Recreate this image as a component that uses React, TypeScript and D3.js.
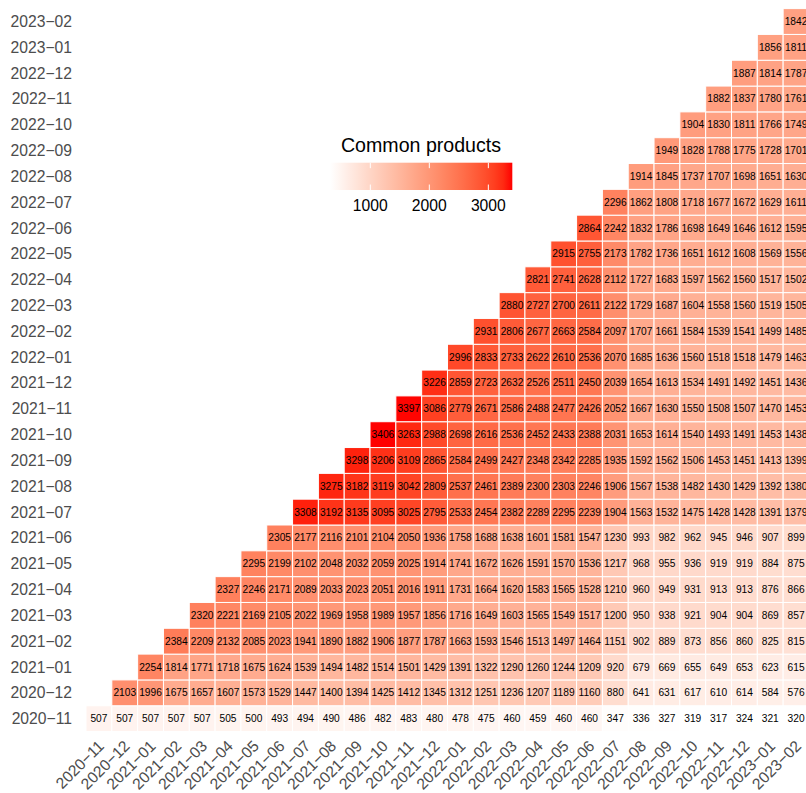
import React from "react";
import * as d3 from "d3";

// Months (x = later month, y = starting month)
const months = [
  "2020-11", "2020-12", "2021-01", "2021-02", "2021-03", "2021-04", "2021-05",
  "2021-06", "2021-07", "2021-08", "2021-09", "2021-10", "2021-11", "2021-12",
  "2022-01", "2022-02", "2022-03", "2022-04", "2022-05", "2022-06", "2022-07",
  "2022-08", "2022-09", "2022-10", "2022-11", "2022-12", "2023-01", "2023-02",
];

// Each row: values for columns starting at the row's own month
const row_2020_11 = [507, 507, 507, 507, 507, 505, 500, 493, 494, 490, 486, 482, 483, 480, 478, 475, 460, 459, 460, 460, 347, 336, 327, 319, 317, 324, 321, 320];
const row_2020_12 = [2103, 1996, 1675, 1657, 1607, 1573, 1529, 1447, 1400, 1394, 1425, 1412, 1345, 1312, 1251, 1236, 1207, 1189, 1160, 880, 641, 631, 617, 610, 614, 584, 576];
const row_2021_01 = [2254, 1814, 1771, 1718, 1675, 1624, 1539, 1494, 1482, 1514, 1501, 1429, 1391, 1322, 1290, 1260, 1244, 1209, 920, 679, 669, 655, 649, 653, 623, 615];
const row_2021_02 = [2384, 2209, 2132, 2085, 2023, 1941, 1890, 1882, 1906, 1877, 1787, 1663, 1593, 1546, 1513, 1497, 1464, 1151, 902, 889, 873, 856, 860, 825, 815];
const row_2021_03 = [2320, 2221, 2169, 2105, 2022, 1969, 1958, 1989, 1957, 1856, 1716, 1649, 1603, 1565, 1549, 1517, 1200, 950, 938, 921, 904, 904, 869, 857];
const row_2021_04 = [2327, 2246, 2171, 2089, 2033, 2023, 2051, 2016, 1911, 1731, 1664, 1620, 1583, 1565, 1528, 1210, 960, 949, 931, 913, 913, 876, 866];
const row_2021_05 = [2295, 2199, 2102, 2048, 2032, 2059, 2025, 1914, 1741, 1672, 1626, 1591, 1570, 1536, 1217, 968, 955, 936, 919, 919, 884, 875];
const row_2021_06 = [2305, 2177, 2116, 2101, 2104, 2050, 1936, 1758, 1688, 1638, 1601, 1581, 1547, 1230, 993, 982, 962, 945, 946, 907, 899];
const row_2021_07 = [3308, 3192, 3135, 3095, 3025, 2795, 2533, 2454, 2382, 2289, 2295, 2239, 1904, 1563, 1532, 1475, 1428, 1428, 1391, 1379];
const row_2021_08 = [3275, 3182, 3119, 3042, 2809, 2537, 2461, 2389, 2300, 2303, 2246, 1906, 1567, 1538, 1482, 1430, 1429, 1392, 1380];
const row_2021_09 = [3298, 3206, 3109, 2865, 2584, 2499, 2427, 2348, 2342, 2285, 1935, 1592, 1562, 1506, 1453, 1451, 1413, 1399];
const row_2021_10 = [3406, 3263, 2988, 2698, 2616, 2536, 2452, 2433, 2388, 2031, 1653, 1614, 1540, 1493, 1491, 1453, 1438];
const row_2021_11 = [3397, 3086, 2779, 2671, 2586, 2488, 2477, 2426, 2052, 1667, 1630, 1550, 1508, 1507, 1470, 1453];
const row_2021_12 = [3226, 2859, 2723, 2632, 2526, 2511, 2450, 2039, 1654, 1613, 1534, 1491, 1492, 1451, 1436];
const row_2022_01 = [2996, 2833, 2733, 2622, 2610, 2536, 2070, 1685, 1636, 1560, 1518, 1518, 1479, 1463];
const row_2022_02 = [2931, 2806, 2677, 2663, 2584, 2097, 1707, 1661, 1584, 1539, 1541, 1499, 1485];
const row_2022_03 = [2880, 2727, 2700, 2611, 2122, 1729, 1687, 1604, 1558, 1560, 1519, 1505];
const row_2022_04 = [2821, 2741, 2628, 2112, 1727, 1683, 1597, 1562, 1560, 1517, 1502];
const row_2022_05 = [2915, 2755, 2173, 1782, 1736, 1651, 1612, 1608, 1569, 1556];
const row_2022_06 = [2864, 2242, 1832, 1786, 1698, 1649, 1646, 1612, 1595];
const row_2022_07 = [2296, 1862, 1808, 1718, 1677, 1672, 1629, 1611];
const row_2022_08 = [1914, 1845, 1737, 1707, 1698, 1651, 1630];
const row_2022_09 = [1949, 1828, 1788, 1775, 1728, 1701];
const row_2022_10 = [1904, 1830, 1811, 1766, 1749];
const row_2022_11 = [1882, 1837, 1780, 1761];
const row_2022_12 = [1887, 1814, 1787];
const row_2023_01 = [1856, 1811];
const row_2023_02 = [1842];

const rows = [
  row_2020_11, row_2020_12, row_2021_01, row_2021_02, row_2021_03, row_2021_04,
  row_2021_05, row_2021_06, row_2021_07, row_2021_08, row_2021_09, row_2021_10,
  row_2021_11, row_2021_12, row_2022_01, row_2022_02, row_2022_03, row_2022_04,
  row_2022_05, row_2022_06, row_2022_07, row_2022_08, row_2022_09, row_2022_10,
  row_2022_11, row_2022_12, row_2023_01, row_2023_02,
];

const legendTicks = [1000, 2000, 3000];
const legendTitle = "Common products";

const W = 806;
const H = 793;
const FONT = "'Liberation Sans', Arial, Helvetica, sans-serif";
const fmt = (m: string) => m.replace("-", "\u2212");

export default function App() {
  const cell = 25.82;
  const x0 = 86;
  const y0 = 8.6;
  const x = d3.scaleBand<string>().domain(months).range([x0, x0 + cell * months.length]).padding(0);
  const y = d3.scaleBand<string>().domain([...months].reverse()).range([y0, y0 + cell * months.length]).padding(0);

  const cells: { xm: string; ym: string; v: number }[] = [];
  rows.forEach((r, i) => {
    r.forEach((v, j) => {
      cells.push({ xm: months[i + j], ym: months[i], v });
    });
  });
  const all = cells.map((c) => c.v);
  const vmin = d3.min(all) as number;
  const vmax = d3.max(all) as number;
  const color = d3
    .scaleLinear<string>()
    .domain([vmin, vmax])
    .range(["white", "red"])
    .interpolate(d3.interpolateLab);

  // legend
  const lx0 = 330, lx1 = 512.3, ly0 = 162.7, lh = 27.3;
  const lscale = d3.scaleLinear().domain([vmin, vmax]).range([lx0, lx1]);
  const stops = d3.range(0, 1.0001, 0.05);

  return (
    <svg width={W} height={H} style={{ position: "absolute", left: 0, top: 0, background: "white" }} fontFamily={FONT}>
      <defs>
        <linearGradient id="lg" x1="0" x2="1" y1="0" y2="0">
          {stops.map((t) => (
            <stop key={t} offset={t} stopColor={color(vmin + t * (vmax - vmin))} />
          ))}
        </linearGradient>
      </defs>
      <rect x={0} y={0} width={W} height={H} fill="white" />
      <g>
        {cells.map((c, k) => (
          <rect
            key={"r" + k}
            x={x(c.xm)}
            y={y(c.ym)}
            width={x.bandwidth()}
            height={y.bandwidth()}
            fill={color(c.v)}
            stroke="white"
            strokeWidth={1}
          />
        ))}
        {cells.map((c, k) => (
          <text
            key={"t" + k}
            x={(x(c.xm) as number) + x.bandwidth() / 2}
            y={(y(c.ym) as number) + y.bandwidth() / 2}
            textAnchor="middle"
            dominantBaseline="central"
            fontSize={10.2}
            fill="black"
          >
            {c.v}
          </text>
        ))}
      </g>
      <g>
        {months.map((m) => (
          <text
            key={"y" + m}
            x={72}
            y={(y(m) as number) + y.bandwidth() / 2}
            textAnchor="end"
            dominantBaseline="central"
            fontSize={15.7}
            fill="#4d4d4d"
          >
            {fmt(m)}
          </text>
        ))}
        {months.map((m) => (
          <text
            key={"x" + m}
            transform={`translate(${(x(m) as number) + x.bandwidth() / 2 + 6},747) rotate(-45)`}
            textAnchor="end"
            fontSize={15.7}
            fill="#4d4d4d"
          >
            {fmt(m)}
          </text>
        ))}
      </g>
      <g>
        <text x={421} y={152} textAnchor="middle" fontSize={19.6} fill="black">
          {legendTitle}
        </text>
        <rect x={lx0} y={ly0} width={lx1 - lx0} height={lh} fill="url(#lg)" />
        {legendTicks.map((t) => (
          <g key={"lt" + t}>
            <line x1={lscale(t)} x2={lscale(t)} y1={ly0} y2={ly0 + lh / 5} stroke="white" strokeWidth={1} />
            <line x1={lscale(t)} x2={lscale(t)} y1={ly0 + lh - lh / 5} y2={ly0 + lh} stroke="white" strokeWidth={1} />
            <text x={lscale(t)} y={210.5} textAnchor="middle" fontSize={15.7} fill="black">
              {t}
            </text>
          </g>
        ))}
      </g>
    </svg>
  );
}
